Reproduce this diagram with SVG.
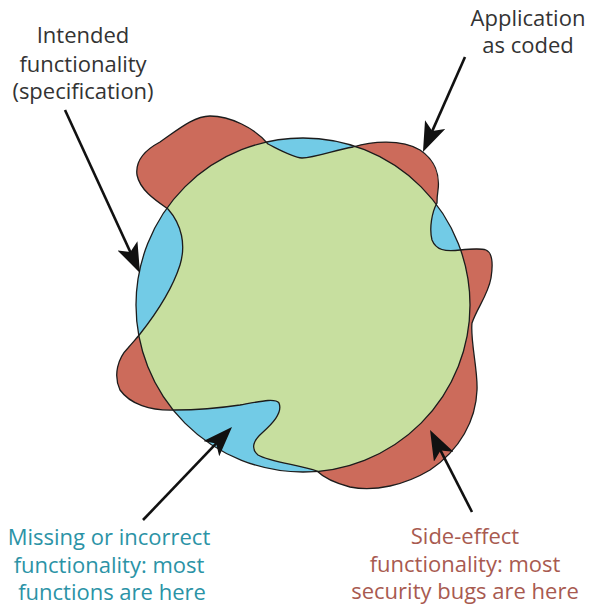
<svg xmlns="http://www.w3.org/2000/svg" width="589" height="605" viewBox="0 0 589 605">
<style>
.lbl{font-family:"Open Sans","Noto Sans",sans-serif;font-size:22px;text-anchor:middle}
.dark{fill:#333333}
.teal{fill:#2b93a6}
.brown{fill:#a85a50}
.edge{fill:none;stroke:#1c1c1c;stroke-width:1.3}
.arrow{stroke:#111111;stroke-width:2.6;fill:none;marker-end:url(#head)}
</style>
<defs>
<marker id="head" markerUnits="userSpaceOnUse" markerWidth="30" markerHeight="22" viewBox="0 0 30 22" refX="20" refY="11" orient="auto">
<path d="M0,0 L30,11 L0,22 L7,11 Z" fill="#111111"/>
</marker>
<path id="app" d="M168,209 C155,200 140,190 137,175 C135,160 145,150 160,142 C180,128 195,116 210,116 C230,116 255,128 268,144 C280,150 292,157 302,158 C315,158 335,150 353,147 C370,142 400,138 420,150 C435,160 440,175 438,190 C437,197 437,200 437,203 C432,212 429,228 432,240 C436,250 445,252 460,250 C470,249 480,248 486,250 C493,253 493,265 491,278 C488,295 477,308 472,323 C470,340 478,370 477,390 C476,420 460,450 430,470 C405,485 375,492 350,487 C335,483 323,477 317,471 C300,465 270,462 258,455 C250,448 254,440 262,433 C272,424 283,413 279,403 C275,398 262,401 240,405 C220,408 195,410 175,410 C150,411 130,404 120,390 C113,375 118,358 128,348 C133,342 137,338 140,334 C155,315 172,290 180,265 C186,245 182,225 168,209 Z"/>
<clipPath id="specClip"><circle cx="303" cy="305" r="167"/></clipPath>
</defs>
<g id="spec">
<circle cx="303" cy="305" r="167" fill="#72cbe6"/>
</g>
<g id="application">
<use href="#app" fill="#cc6b5b"/>
<use href="#app" fill="#c7df9f" clip-path="url(#specClip)"/>
<circle cx="303" cy="305" r="167" class="edge"/>
<use href="#app" class="edge"/>
</g>
<g id="connectors">
<line class="arrow" x1="65" y1="110" x2="135.8" y2="263.9"/>
<line class="arrow" x1="465" y1="57" x2="427" y2="142.9"/>
<line class="arrow" x1="143" y1="520" x2="225.1" y2="434.2"/>
<line class="arrow" x1="472" y1="512" x2="434.6" y2="438.9"/>
</g>
<g id="label-intended">
<text class="lbl dark" x="83" y="43">Intended</text>
<text class="lbl dark" x="83" y="72">functionality</text>
<text class="lbl dark" x="83" y="99">(specification)</text>
</g>
<g id="label-application">
<text class="lbl dark" x="528" y="26">Application</text>
<text class="lbl dark" x="528" y="53">as coded</text>
</g>
<g id="label-missing">
<text class="lbl teal" x="109" y="545">Missing or incorrect</text>
<text class="lbl teal" x="109" y="573">functionality: most</text>
<text class="lbl teal" x="112" y="600">functions are here</text>
</g>
<g id="label-side">
<text class="lbl brown" x="465" y="544">Side-effect</text>
<text class="lbl brown" x="465" y="572">functionality: most</text>
<text class="lbl brown" x="465" y="599">security bugs are here</text>
</g>
</svg>
